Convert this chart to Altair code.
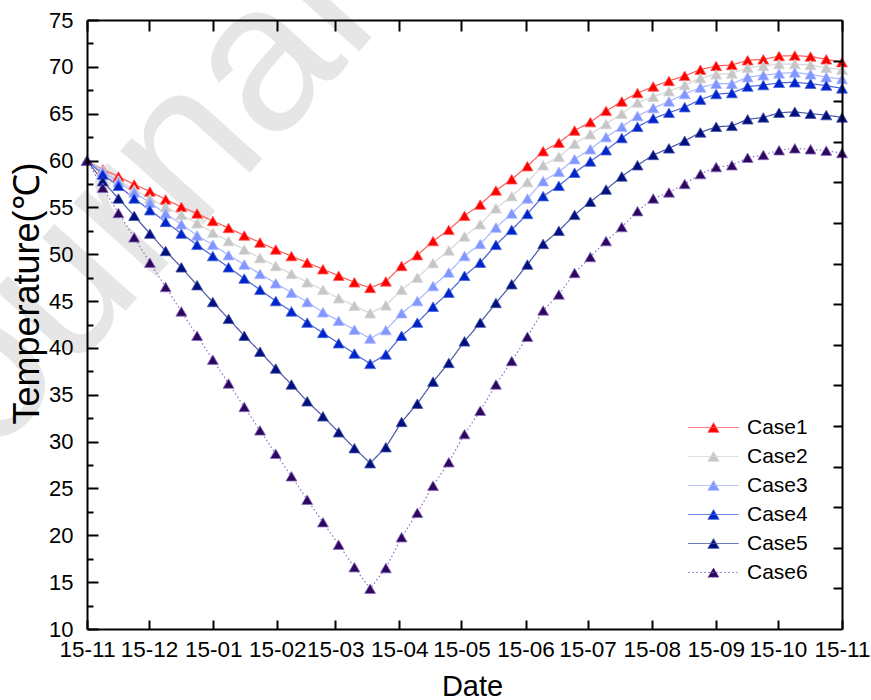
import json

import altair as alt
import numpy as np
import pandas as pd

# ---- data -----------------------------------------------------------------
cases = ["Case1", "Case2", "Case3", "Case4", "Case5", "Case6"]

case1 = [60.0, 59.05, 58.3, 57.45, 56.7, 55.85, 55.05, 54.35, 53.55, 52.8,
         52.0, 51.25, 50.5, 49.8, 49.1, 48.4, 47.7, 47.0, 46.4, 47.1,
         48.75, 49.9, 51.4, 52.6, 54.1, 55.3, 56.8, 58.0, 59.4, 61.0,
         61.9, 63.2, 64.1, 65.3, 66.3, 67.2, 67.9, 68.5, 69.05, 69.7,
         70.1, 70.2, 70.7, 70.8, 71.15, 71.2, 71.1, 70.8, 70.5]
case2 = [60.0, 58.95, 57.9, 56.9, 55.95, 55.05, 54.2, 53.3, 52.3, 51.4,
         50.5, 49.6, 48.75, 47.9, 47.0, 46.2, 45.3, 44.5, 43.7, 44.55,
         46.2, 47.5, 49.05, 50.4, 51.9, 53.2, 54.9, 56.2, 57.7, 59.5,
         60.4, 61.8, 62.8, 63.9, 65.0, 66.2, 66.8, 67.4, 68.05, 68.8,
         69.2, 69.3, 69.9, 70.1, 70.3, 70.3, 70.2, 69.9, 69.7]
case3 = [60.0, 58.8, 57.7, 56.6, 55.5, 54.35, 53.2, 52.0, 51.0, 49.9,
         48.9, 47.9, 46.9, 45.9, 44.9, 43.8, 42.9, 41.95, 41.0, 41.9,
         43.7, 45.0, 46.6, 48.05, 49.8, 51.1, 52.85, 54.35, 55.95, 57.8,
         58.8, 60.15, 61.2, 62.5, 63.6, 64.75, 65.6, 66.3, 67.1, 67.8,
         68.2, 68.2, 68.9, 69.1, 69.3, 69.4, 69.2, 68.9, 68.7]
case4 = [60.0, 58.5, 57.3, 55.95, 54.7, 53.45, 52.2, 51.0, 49.8, 48.6,
         47.4, 46.2, 45.0, 43.9, 42.7, 41.6, 40.5, 39.4, 38.3, 39.3,
         41.3, 42.7, 44.4, 45.9, 47.7, 49.1, 51.0, 52.6, 54.3, 56.2,
         57.3, 58.7, 59.9, 61.1, 62.4, 63.6, 64.5, 65.1, 65.7, 66.5,
         67.1, 67.2, 67.9, 68.05, 68.3, 68.35, 68.2, 68.0, 67.7]
case5 = [60.0, 57.8, 55.95, 54.1, 52.2, 50.35, 48.6, 46.7, 44.9, 43.1,
         41.3, 39.6, 37.8, 36.1, 34.3, 32.7, 31.0, 29.3, 27.7, 29.4,
         32.1, 34.05, 36.4, 38.4, 40.7, 42.7, 44.8, 46.8, 48.9, 51.1,
         52.5, 54.2, 55.6, 56.9, 58.3, 59.5, 60.6, 61.3, 62.1, 63.0,
         63.6, 63.7, 64.4, 64.6, 65.1, 65.2, 65.0, 64.85, 64.6]
case6 = [60.0, 57.1, 54.4, 51.8, 49.1, 46.5, 43.9, 41.3, 38.75, 36.2,
         33.7, 31.2, 28.7, 26.3, 23.8, 21.4, 19.0, 16.6, 14.3, 16.5,
         19.8, 22.4, 25.3, 27.8, 30.8, 33.3, 36.1, 38.6, 41.2, 44.0,
         45.7, 48.0, 49.7, 51.4, 52.9, 54.6, 55.95, 56.6, 57.5, 58.55,
         59.3, 59.5, 60.3, 60.6, 61.1, 61.3, 61.2, 61.05, 60.8]
series = [case1, case2, case3, case4, case5, case6]

# days counted from the first of November; one sample every 365/48 days
sample_days = np.linspace(0, 365, len(case1))

month_days = [0, 30, 61, 92, 120, 151, 181, 212, 242, 273, 304, 334, 365]
month_labels = ["15-11", "15-12", "15-01", "15-02", "15-03", "15-04", "15-05",
                "15-06", "15-07", "15-08", "15-09", "15-10", "15-11"]
y_major = [10, 15, 20, 25, 30, 35, 40, 45, 50, 55, 60, 65, 70, 75]
y_minor = [12.5, 17.5, 22.5, 27.5, 32.5, 37.5, 42.5, 47.5, 52.5, 57.5,
           62.5, 67.5, 72.5]
right_ticks = [70.667, 66.333, 62.0, 57.667, 53.333, 49.0, 44.667, 40.333,
               36.0, 31.667, 27.333, 23.0, 18.667, 14.333]

# ---- styles ---------------------------------------------------------------
marker_colors = ["#FF0000", "#C6C6C6", "#8296FF", "#0024CC", "#00107E", "#2E0660"]
line_colors = ["#FF5A5A", "#D6D6D6", "#A8B6FF", "#4A64DA", "#4A56A6", "#8A70C0"]
dashes = [[1, 0], [1, 0], [1, 0], [1, 0], [1, 0], [1.5, 2.5]]

FONT = "Liberation Sans"
W, H = 755, 609

records = []
for name, vals in zip(cases, series):
    for d, v in zip(sample_days, vals):
        records.append({"day": float(d), "temp": v, "case": name})
df = pd.DataFrame(records)

xs = alt.Scale(domain=[0, 365], nice=False, zero=False)
ys = alt.Scale(domain=[10, 75], nice=False, zero=False)


def inward(n):
    return {"expr": str(-n)}


label_expr = "{}[indexof({}, datum.value)]".format(
    json.dumps(month_labels), json.dumps(month_days))

common = dict(grid=False, zindex=1, domainColor="black", tickColor="black",
              tickWidth=2, domainWidth=2)

x_bottom = alt.Axis(
    orient="bottom", values=month_days, labelExpr=label_expr,
    labelFlush=False, labelOverlap=False, labelFont=FONT, labelFontSize=22.5,
    labelColor="black", labelPadding=18, tickSize=inward(9),
    title="Date", titleFont=FONT, titleFontSize=29, titleFontWeight="normal",
    titleColor="black", titleX=385, titleY=66, titleBaseline="alphabetic",
    titleAlign="center", **common)

y_left = alt.Axis(
    orient="left", values=y_major, format="d", labelOverlap=False,
    labelFont=FONT, labelFontSize=22, labelColor="black", labelPadding=25,
    tickSize=inward(11), title="Temperature(℃)", titleFont=FONT,
    titleFontSize=36, titleFontWeight="normal", titleColor="black",
    titleX=-60, titleY=273, titleAngle=270, titleBaseline="middle",
    titleAlign="center", **common)

y_left_minor = alt.Axis(orient="left", values=y_minor, labels=False,
                        domain=False, tickSize=inward(6), title=None, **common)
x_top = alt.Axis(orient="top", values=month_days, labels=False,
                 tickSize=inward(11), title=None, **common)
y_right = alt.Axis(orient="right", values=right_ticks, labels=False,
                   tickSize=inward(9), title=None, **common)

# legend symbol: a short line with a triangle in the middle
LEGEND_PATH = "M-2.8,0H2.8M-0.62,0.54L0,-0.54L0.62,0.54Z"
legend = alt.Legend(title=None, orient="none", legendX=616, legendY=397,
                    symbolType=LEGEND_PATH, symbolSize=324,
                    symbolStrokeWidth=1, labelFont=FONT, labelFontSize=21,
                    labelColor="black", labelOffset=23, rowPadding=7,
                    padding=0)

stroke_scale = alt.Scale(domain=cases, range=line_colors)
fill_scale = alt.Scale(domain=cases, range=marker_colors)
dash_scale = alt.Scale(domain=cases, range=dashes)

# faint diagonal watermark behind the data
watermark = alt.Chart(pd.DataFrame({"k": [0]})).mark_text(
    text="Journal Pre-proof", font=FONT, fontSize=210, color="#E6E6E6",
    angle=312, align="left", baseline="alphabetic",
).encode(x=alt.value(-167), y=alt.value(519))

lines = alt.Chart(df).mark_line(strokeWidth=1.2).encode(
    x=alt.X("day:Q", scale=xs, axis=x_bottom),
    y=alt.Y("temp:Q", scale=ys, axis=y_left),
    stroke=alt.Stroke("case:N", scale=stroke_scale, legend=legend),
    strokeDash=alt.StrokeDash("case:N", scale=dash_scale, legend=legend),
)

points = alt.Chart(df).mark_point(
    shape="triangle-up", filled=True, size=120, strokeWidth=0.8, opacity=1
).encode(
    x=alt.X("day:Q", scale=xs, axis=None),
    y=alt.Y("temp:Q", scale=ys, axis=None),
    fill=alt.Fill("case:N", scale=fill_scale, legend=legend),
    stroke=alt.Stroke("case:N", scale=stroke_scale, legend=legend),
)

frame_a = alt.Chart(df).mark_point(opacity=0).encode(
    x=alt.X("day:Q", scale=xs, axis=x_top),
    y=alt.Y("temp:Q", scale=ys, axis=y_left_minor),
)
frame_b = alt.Chart(df).mark_point(opacity=0).encode(
    x=alt.X("day:Q", scale=xs, axis=None),
    y=alt.Y("temp:Q", scale=ys, axis=y_right),
)

chart = alt.layer(watermark, lines, points, frame_a, frame_b).resolve_axis(
    x="independent", y="independent"
).properties(
    width=W, height=H,
    autosize=alt.AutoSizeParams(type="none"),
    padding={"left": 87, "top": 20, "right": 29, "bottom": 71},
    background="white",
).configure_view(stroke=None)

chart.save("out.html", embed_options={"renderer": "svg", "actions": False})
